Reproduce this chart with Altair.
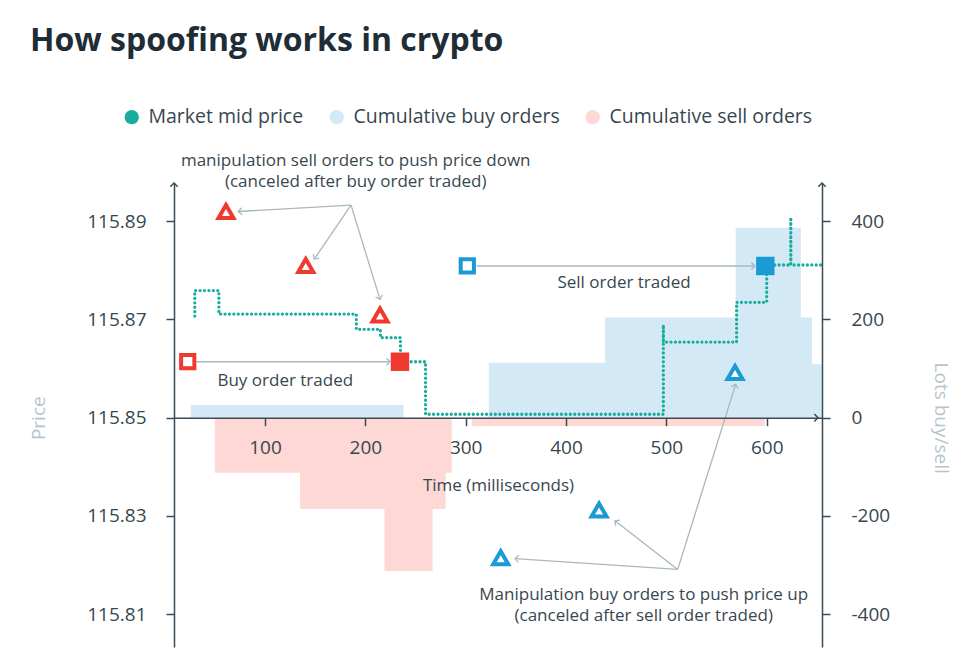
import math
import altair as alt
import pandas as pd

# ---------------- values ----------------
time_domain = [9.3, 655.1]          # milliseconds covered by the plot
lots_domain = [-467, 478]           # right axis (lots)
base_price = 115.85                 # price at 0 lots
price_per_lot = 0.0001
price_domain = [base_price + v * price_per_lot for v in lots_domain]

x_ticks = [100, 200, 300, 400, 500, 600]
price_ticks = [115.81, 115.83, 115.85, 115.87, 115.89]
lots_ticks = [-400, -200, 0, 200, 400]

# Market mid price (step path)
mid_ms = [30, 30, 54, 54, 191, 191, 215, 215, 235, 235, 260, 260, 497, 497, 497,
          570, 570, 600, 600, 624, 624, 624, 655]
mid_price = [115.8707, 115.8759, 115.8759, 115.8711, 115.8711, 115.8680, 115.8680,
             115.8663, 115.8663, 115.8614, 115.8614, 115.8507, 115.8507, 115.8689,
             115.8654, 115.8654, 115.8735, 115.8735, 115.8811, 115.8811, 115.8908,
             115.8811, 115.8811]

# Cumulative buy orders (lots, step-after)
buy_ms = [26, 238, 323, 439, 569, 634, 645, 655]
buy_lots = [26, 0, 112, 204, 387, 204, 109, 109]

# Cumulative sell orders (lots, step-after)
sell_ms = [50, 135, 219, 267, 280, 286, 306, 598]
sell_lots = [-112, -186, -312, -186, -112, 0, -17, 0]

# Markers
red_tri_ms = [61.1, 140.6, 214.6]
red_tri_price = [115.8920, 115.8810, 115.8709]
blue_tri_ms = [568.4, 432.9, 334.9]
blue_tri_price = [115.8592, 115.8312, 115.8215]
open_sq_ms = [23.0, 301.6]
open_sq_price = [115.8614, 115.8809]
open_sq_side = ["buy", "sell"]
fill_sq_ms = [234.5, 598.6]
fill_sq_price = [115.8614, 115.8809]
fill_sq_side = ["buy", "sell"]

# Annotation arrows (from -> to)
arrow_ms_from = [185.7, 185.7, 185.7, 31.9, 311.0, 511.3, 511.3, 511.3]
arrow_price_from = [115.8933, 115.8933, 115.8933, 115.8614, 115.8809, 115.8191, 115.8191, 115.8191]
arrow_ms_to = [73.4, 149.1, 214.6, 224.6, 588.3, 349.2, 448.8, 569.1]
arrow_price_to = [115.8920, 115.8823, 115.8741, 115.8614, 115.8809, 115.8213, 115.8290, 115.8568]

# Annotation texts (position = first line)
label_text = [
    "manipulation sell orders to push price down\n(canceled after buy order traded)",
    "Buy order traded",
    "Sell order traded",
    "Manipulation buy orders to push price up\n(canceled after sell order traded)",
]
label_ms = [190.4, 120.2, 457.8, 477.4]
label_price = [115.90236, 115.85754, 115.87738, 115.81387]

legend_names = ["Market mid price", "Cumulative buy orders", "Cumulative sell orders"]

# ---------------- styling ----------------
W, H = 648, 464
FONT = "Open Sans"
TEAL = "#1aad9f"
BLUE_FILL = "#d3eaf6"
PINK_FILL = "#fed8d5"
RED = "#f0392f"
BLUE = "#1b9ad6"
ARROW = "#a9b7c0"
TXT = "#37474f"
AX = "#3b4b56"
LIGHT = "#b6c5cd"
TITLE = "#1f2d36"

px_per_ms = W / (time_domain[1] - time_domain[0])
px_per_price = H / (price_domain[1] - price_domain[0])
x_axis_offset = -H * (0 - lots_domain[0]) / (lots_domain[1] - lots_domain[0])

xscale = alt.Scale(domain=time_domain, nice=False, zero=False)
pscale = alt.Scale(domain=price_domain, nice=False, zero=False)
lscale = alt.Scale(domain=lots_domain, nice=False, zero=False)

xaxis = alt.Axis(
    orient="bottom", values=x_ticks, offset=x_axis_offset, title="Time (milliseconds)",
    titleX=W / 2, titleY=68, titleBaseline="middle", titleAlign="center",
    titleFontSize=17, titleFontWeight="normal", titleColor=TXT, titleFont=FONT,
    domainColor=AX, domainWidth=1.5, tickColor=AX, tickWidth=1.5, tickSize=8,
    labelFontSize=19, labelColor=TXT, labelFont=FONT, labelPadding=13,
    grid=False, zindex=1, labelFlush=False,
)
paxis = alt.Axis(
    orient="left", values=price_ticks, format=".2f", title="Price",
    titleX=-136, titleY=234.7, titleAngle=270, titleAlign="center", titleBaseline="middle",
    titleFontSize=19, titleFontWeight="normal", titleColor=LIGHT, titleFont=FONT,
    domainColor=AX, domainWidth=1.5, tickColor=AX, tickWidth=1.5, tickSize=8,
    labelFontSize=19, labelColor=TXT, labelFont=FONT, labelPadding=20,
    grid=False, zindex=1,
)
laxis = alt.Axis(
    orient="right", values=lots_ticks, labelExpr="datum.value + ''", title="Lots buy/sell",
    titleX=118.5, titleY=234.7, titleAngle=90, titleAlign="center", titleBaseline="middle",
    titleFontSize=19, titleFontWeight="normal", titleColor=LIGHT, titleFont=FONT,
    domainColor=AX, domainWidth=1.5, tickColor=AX, tickWidth=1.5, tickSize=8,
    labelFontSize=19, labelColor=TXT, labelFont=FONT, labelPadding=21,
    grid=False, zindex=1,
)

X = alt.X("ms:Q", scale=xscale, axis=xaxis)
YP = alt.Y("price:Q", scale=pscale, axis=paxis)
YL = alt.Y("lots:Q", scale=lscale, axis=laxis)

# ---------------- data tables ----------------
mid_df = pd.DataFrame({"ms": mid_ms, "price": mid_price, "i": range(len(mid_ms))})
buy_df = pd.DataFrame({"ms": buy_ms, "lots": buy_lots})
sell_df = pd.DataFrame({"ms": sell_ms, "lots": sell_lots})

def arrow_angle(m0, p0, m1, p1):
    dx = (m1 - m0) * px_per_ms
    dy = -(p1 - p0) * px_per_price
    return math.degrees(math.atan2(dy, dx)) % 360

arrow_df = pd.DataFrame({
    "ms": arrow_ms_from, "price": arrow_price_from,
    "ms2": arrow_ms_to, "price2": arrow_price_to,
})
head_df = pd.DataFrame({
    "ms": arrow_ms_to, "price": arrow_price_to,
    "angle": [arrow_angle(a, b, c, d) for a, b, c, d in
              zip(arrow_ms_from, arrow_price_from, arrow_ms_to, arrow_price_to)],
})
label_df = pd.DataFrame({"ms": label_ms, "price": label_price, "text": label_text})

axis_arrow_up_df = pd.DataFrame({"ms": [time_domain[0], time_domain[1]],
                                 "lots": [lots_domain[1], lots_domain[1]]})
axis_arrow_right_df = pd.DataFrame({"ms": [time_domain[1] - 4 / px_per_ms], "lots": [0]})

# ---------------- lots layer (areas) ----------------
buy_area = alt.Chart(buy_df).mark_area(interpolate="step-after", color=BLUE_FILL, opacity=1).encode(
    x=X, y=alt.Y("lots:Q", scale=lscale, axis=laxis, stack=None))
sell_area = alt.Chart(sell_df).mark_area(interpolate="step-after", color=PINK_FILL, opacity=1).encode(
    x=X, y=alt.Y("lots:Q", scale=lscale, axis=laxis, stack=None))
up_heads = alt.Chart(axis_arrow_up_df).mark_point(
    shape="M-1,1L0,0L1,1", size=55, filled=False, stroke=AX, strokeWidth=1.5, opacity=1
).encode(x=X, y=YL)
right_head = alt.Chart(axis_arrow_right_df).mark_point(
    shape="M-1,-1L0,0L-1,1", size=55, filled=False, stroke=AX, strokeWidth=1.5, opacity=1
).encode(x=X, y=YL)
lots_layer = alt.layer(buy_area, sell_area, up_heads, right_head)

# ---------------- price layer ----------------
mid_line = alt.Chart(mid_df).mark_line(
    color=TEAL, strokeWidth=3.3, strokeDash=[0.01, 4.4], strokeCap="round", strokeJoin="round"
).encode(x=X, y=YP, order="i:Q")

arrows = alt.Chart(arrow_df).mark_rule(color=ARROW, strokeWidth=1.3).encode(
    x=X, y=YP, x2="ms2:Q", y2="price2:Q")
heads = alt.Chart(head_df).mark_point(
    shape="M-1,-1L0,0L-1,1", size=50, filled=False, stroke=ARROW, strokeWidth=1.3, opacity=1
).encode(x=X, y=YP, angle=alt.Angle("angle:Q", scale=None))

red_tri = alt.Chart(pd.DataFrame({"ms": red_tri_ms, "price": red_tri_price})).mark_point(
    shape="triangle-up", size=225, filled=True, fill="white", stroke=RED, strokeWidth=4, opacity=1
).encode(x=X, y=YP)
blue_tri = alt.Chart(pd.DataFrame({"ms": blue_tri_ms, "price": blue_tri_price})).mark_point(
    shape="triangle-up", size=225, filled=True, fill="white", stroke=BLUE, strokeWidth=4, opacity=1
).encode(x=X, y=YP)

side_scale = alt.Scale(domain=["buy", "sell"], range=[RED, BLUE])
open_sq = alt.Chart(pd.DataFrame({"ms": open_sq_ms, "price": open_sq_price, "side": open_sq_side})).mark_point(
    shape="square", size=175, filled=True, fill="white", strokeWidth=4, opacity=1
).encode(x=X, y=YP, stroke=alt.Stroke("side:N", scale=side_scale, legend=None))
fill_sq = alt.Chart(pd.DataFrame({"ms": fill_sq_ms, "price": fill_sq_price, "side": fill_sq_side})).mark_point(
    shape="square", size=340, filled=True, opacity=1, strokeWidth=0
).encode(x=X, y=YP, fill=alt.Fill("side:N", scale=side_scale, legend=None))

labels = alt.Chart(label_df).mark_text(
    font=FONT, fontSize=17, color=TXT, align="center", baseline="middle",
    lineBreak="\n", lineHeight=21
).encode(x=X, y=YP, text="text:N")

legend_layer = alt.Chart(pd.DataFrame({"series": legend_names})).mark_circle(opacity=1).encode(
    color=alt.Color(
        "series:N",
        scale=alt.Scale(domain=legend_names, range=[TEAL, BLUE_FILL, PINK_FILL]),
        legend=alt.Legend(
            orient="none", legendX=-52, legendY=-76, direction="horizontal", title=None,
            symbolType="circle", symbolSize=205, symbolStrokeWidth=0, symbolOpacity=1,
            labelFont=FONT, labelFontSize=19.5, labelColor=TXT, labelOffset=7, labelLimit=0,
            columnPadding=23, padding=0,
        ),
    )
).transform_filter("false")

price_layer = alt.layer(mid_line, arrows, heads, red_tri, blue_tri, open_sq, fill_sq, labels, legend_layer)

chart = alt.layer(lots_layer, price_layer).resolve_scale(
    y="independent", stroke="independent", fill="independent", color="independent"
).properties(
    width=W, height=H,
    autosize=alt.AutoSizeParams(type="none"),
    padding={"left": 166, "top": 175, "right": 150, "bottom": 10},
    title=alt.TitleParams(
        "How spoofing works in crypto", anchor="start", frame="group", dx=-144, offset=24,
        baseline="alphabetic", font=FONT, fontSize=32, fontWeight="bold", color=TITLE,
    ),
).configure_view(stroke=None)

chart.save("out.html", embed_options={"renderer": "svg", "actions": False})
